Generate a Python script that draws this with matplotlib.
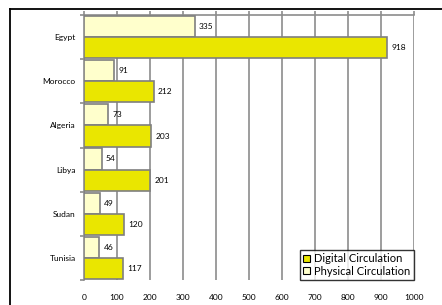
import matplotlib
matplotlib.use("Agg")
import matplotlib.pyplot as plt
from matplotlib.lines import Line2D
import numpy as np

plt.rcParams['font.family'] = ['Lato', 'DejaVu Sans']

countries = ["Egypt", "Morocco", "Algeria", "Libya", "Sudan", "Tunisia"]
physical = [335, 91, 73, 54, 49, 46]
digital = [918, 212, 203, 201, 120, 117]
xticks = [0, 100, 200, 300, 400, 500, 600, 700, 800, 900, 1000]

fig = plt.figure(figsize=(4.42, 3.05), dpi=100)
fig.patch.set_facecolor("white")
# outer frame (left and top visible)
fx = 9.5 / 442
fy = 1 - 8.5 / 305
fig.add_artist(Line2D([fx, fx], [0, fy], transform=fig.transFigure, color="black", linewidth=1.3))
fig.add_artist(Line2D([fx, 1], [fy, fy], transform=fig.transFigure, color="black", linewidth=1.3))

ax = fig.add_axes([84/442, 1 - 280/305, (414 - 84)/442, (280 - 15)/305])
y = np.arange(len(countries))
h = 0.48
off = 0.24
grid_c = "#8c8c8c"
edge_c = "#7f7f7f"

bp = ax.barh(y - off, physical, height=h, color="#FFFFCC", edgecolor=edge_c, linewidth=1.2,
             label="Physical Circulation", zorder=3)
bd = ax.barh(y + off, digital, height=h, color="#EAE600", edgecolor=edge_c, linewidth=1.2,
             label="Digital Circulation", zorder=3)

for yi, v in zip(y, physical):
    ax.annotate(str(v), (v, yi - off), xytext=(3, 0), textcoords="offset points",
                va="center", ha="left", fontsize=6, zorder=4)
for yi, v in zip(y, digital):
    ax.annotate(str(v), (v, yi + off), xytext=(3, 0), textcoords="offset points",
                va="center", ha="left", fontsize=6, zorder=4)

ax.set_xlim(0, 1000)
ax.set_ylim(len(countries) - 0.5, -0.5)
ax.set_xticks(xticks)
ax.set_xticklabels([str(t) for t in xticks], fontsize=6)
ax.xaxis.grid(True, color=grid_c, linewidth=1.2, zorder=0)
ax.set_axisbelow(True)

ax.set_yticks(y)
ax.set_yticklabels(countries, fontsize=6)
ax.tick_params(axis="y", length=0, pad=6)
ax.set_yticks(np.arange(len(countries) + 1) - 0.5, minor=True)
ax.tick_params(axis="y", which="minor", length=3, color=grid_c, width=1.2, direction="out")
ax.tick_params(axis="x", which="both", bottom=False, top=True, labelbottom=True, labeltop=False,
               length=3, color=grid_c, width=1.2, pad=7)

for s in ["right", "bottom"]:
    ax.spines[s].set_visible(False)
for s in ["left", "top"]:
    ax.spines[s].set_color(grid_c)
    ax.spines[s].set_linewidth(1.2)

handles = [bd, bp]
leg = ax.legend(handles=handles, labels=["Digital Circulation", "Physical Circulation"],
                loc="lower right", bbox_to_anchor=(1.0, 0.0), fontsize=8, frameon=True,
                fancybox=False, handlelength=0.6, handleheight=0.6, handletextpad=0.4,
                borderpad=0.3, labelspacing=0.15, borderaxespad=0)
leg.get_frame().set_edgecolor("black")
leg.get_frame().set_linewidth(1.0)
leg.set_zorder(5)
for p in leg.get_patches():
    p.set_edgecolor("black")
    p.set_linewidth(0.8)

fig.savefig("out.png", dpi=100)
